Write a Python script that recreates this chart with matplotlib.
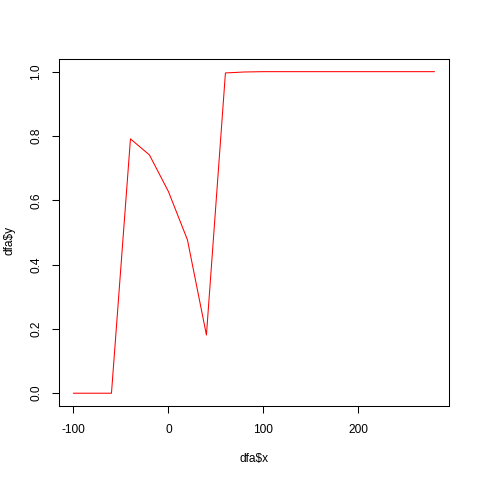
import matplotlib
matplotlib.use('Agg')
import matplotlib.pyplot as plt

# values
x_vals = [-100, -80, -60, -40, -20, 0, 20, 40, 60, 80, 100, 120, 140, 160,
          180, 200, 220, 240, 260, 280]
y_vals = [0.0, 0.0, 0.0, 0.791, 0.741, 0.627, 0.477, 0.181, 0.996, 0.999,
          1.0, 1.0, 1.0, 1.0, 1.0, 1.0, 1.0, 1.0, 1.0, 1.0]
x_ticks = [-100, 0, 100, 200]
y_ticks = [0.0, 0.2, 0.4, 0.6, 0.8, 1.0]

plt.rcParams['font.family'] = ['Liberation Sans', 'DejaVu Sans']
plt.rcParams['font.size'] = 8.6

fig = plt.figure(figsize=(4.8, 4.8), dpi=100)
ax = fig.add_axes([0.123, 0.154, 0.812, 0.7235])

ax.plot(x_vals, y_vals, color='red', linewidth=0.75)

xr = max(x_vals) - min(x_vals)
ax.set_xlim(min(x_vals) - 0.04 * xr, max(x_vals) + 0.04 * xr)
ax.set_ylim(-0.04, 1.04)

ax.set_xticks(x_ticks)
ax.set_xticklabels([str(t) for t in x_ticks])
ax.set_yticks(y_ticks)
ax.set_yticklabels(['%.1f' % t for t in y_ticks], rotation=90, va='center')
ax.tick_params(length=5.2, width=0.75, color='black', pad=7)
ax.tick_params(axis='x', pad=8)
for sp in ax.spines.values():
    sp.set_linewidth(0.75)

ax.set_xlabel('dfa$x', labelpad=12)
ax.set_ylabel('dfa$y', va='center')
ax.yaxis.set_label_coords(9 / 480, 0.5, transform=fig.transFigure)

fig.savefig('out.png', dpi=100)
